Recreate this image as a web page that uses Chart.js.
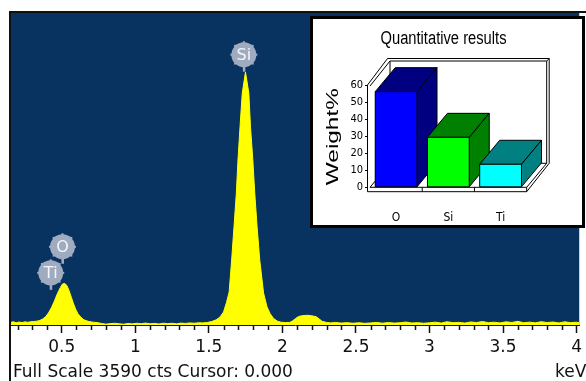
<!DOCTYPE html>
<html lang="en">
<head>
<meta charset="UTF-8">
<title>EDS spectrum</title>
<script src="https://cdn.jsdelivr.net/npm/chart.js"></script>
<style>
  body { margin: 0; background: #fff; }
  #wrap { position: relative; width: 586px; height: 381px; overflow: hidden; }
  #inset { position: absolute; left: 310px; top: 16px; width: 269px; height: 206px; border: 3px solid #000; background: #fff; }
  canvas { display: block; }
</style>
</head>
<body>
<div id="wrap">
  <canvas id="spectrum" width="586" height="381"></canvas>
  <div id="inset"><canvas id="weights" width="269" height="206"></canvas></div>
</div>
<script>
// spectrum (keV / counts)
const energies = [0.155, 0.17, 0.19, 0.21, 0.23, 0.25, 0.27, 0.29,
  0.31, 0.33, 0.35, 0.37, 0.39, 0.41, 0.43, 0.45, 0.47, 0.49, 0.505, 0.52, 0.535, 0.55, 0.565, 0.58, 0.595, 0.61, 0.63, 0.65, 0.68, 0.71,
  0.74, 0.77, 0.80, 0.83, 0.86, 0.89, 0.92, 0.95, 0.98, 1.01, 1.04, 1.07, 1.10, 1.13, 1.16, 1.19, 1.22, 1.25, 1.28, 1.31, 1.34, 1.37, 1.40, 1.43, 1.46, 1.49,
  1.52, 1.55, 1.575, 1.60, 1.62, 1.638, 1.655, 1.671, 1.687, 1.698, 1.712, 1.727, 1.749, 1.772, 1.783, 1.799, 1.812, 1.828, 1.846, 1.872, 1.895, 1.917, 1.94, 1.965, 1.99, 2.02, 2.05,
  2.07, 2.09, 2.11, 2.14, 2.17, 2.20, 2.23, 2.25, 2.27, 2.30,
  2.33, 2.36, 2.40, 2.44, 2.48, 2.52, 2.56, 2.60, 2.64, 2.68, 2.72, 2.76, 2.80, 2.84, 2.88, 2.92, 2.96, 3.00, 3.04, 3.08, 3.12, 3.16, 3.20,
  3.24, 3.28, 3.32, 3.36, 3.40, 3.44, 3.48, 3.52, 3.56, 3.60, 3.64, 3.68, 3.72, 3.76, 3.80, 3.84, 3.88, 3.92, 3.96, 4.00, 4.02];
const counts = [30, 38, 26, 34, 28, 36, 31, 38,
  40, 44, 52, 68, 95, 140, 200, 275, 360, 430, 472, 478, 455, 395, 320, 245, 180, 130, 90, 60, 42, 33,
  28, 18, 10, 16, 20, 14, 9, 18, 13, 20, 15, 22, 14, 19, 12, 21, 16, 20, 14, 22, 18, 24, 20, 26, 24, 30,
  40, 60, 90, 150, 260, 380, 748, 1131, 1519, 1898, 2282, 2666, 2911, 2666, 2282, 1898, 1519, 1131, 748, 368, 210, 130, 75, 45, 32, 28, 30,
  48, 75, 98, 108, 112, 106, 95, 70, 42, 30,
  24, 30, 22, 27, 20, 26, 19, 24, 30, 21, 28, 22, 26, 34, 23, 27, 20, 25, 33, 22, 38, 26, 30,
  22, 35, 28, 40, 27, 32, 24, 36, 29, 42, 26, 33, 25, 38, 28, 34, 24, 37, 27, 32, 26];
const fullScale = 3590;
const xTickValues = [0.5, 1, 1.5, 2, 2.5, 3, 3.5, 4];
const peakNames = ['Si', 'O', 'Ti'];
const peakEnergies = [1.738, 0.505, 0.425];
const peakMarkerCounts = [3110, 900, 600];

// inset: quantitative results
const elements = ['O', 'Si', 'Ti'];
const weights = [56.1, 29.3, 13.5];
const weightTicks = [0, 10, 20, 30, 40, 50, 60];

const frontColors = ['#0000ff', '#00ff00', '#00ffff'];
const sideColors = ['#000080', '#008000', '#008080'];

const NAVY = '#08325f';
const MARK = 'rgb(160,171,192)';
const NARROW = '"DejaVu Sans Condensed", "Liberation Sans Narrow", "Liberation Sans", sans-serif';

function poly(ctx, pts, fill) {
  ctx.beginPath();
  ctx.moveTo(pts[0][0], pts[0][1]);
  for (let i = 1; i < pts.length; i++) ctx.lineTo(pts[i][0], pts[i][1]);
  ctx.closePath();
  if (fill) ctx.fill();
  ctx.stroke();
}
function line(ctx, x1, y1, x2, y2) {
  ctx.beginPath(); ctx.moveTo(x1, y1); ctx.lineTo(x2, y2); ctx.stroke();
}
// text squeezed/stretched to a given width
function fitText(ctx, txt, x, y, width) {
  const w = ctx.measureText(txt).width;
  ctx.save();
  ctx.translate(x, y);
  ctx.scale(width / w, 1);
  ctx.fillText(txt, 0, 0);
  ctx.restore();
}

const spectrumDecor = {
  id: 'spectrumDecor',
  beforeDraw(chart) {
    const {ctx, chartArea: a} = chart;
    ctx.save();
    ctx.fillStyle = NAVY;
    ctx.fillRect(a.left, a.top, a.right - a.left, a.bottom - a.top);
    ctx.fillStyle = '#111';
    ctx.fillRect(a.left - 2, a.top - 2, chart.width, 2);
    ctx.fillRect(a.left - 2, a.top - 2, 2, chart.height);
    ctx.restore();
  },
  afterDraw(chart) {
    const {ctx, chartArea: a} = chart;
    const x = chart.scales.x, y = chart.scales.y;
    ctx.save();
    // minor ticks every 0.1 keV
    ctx.strokeStyle = '#111';
    ctx.lineWidth = 1.5;
    ctx.beginPath();
    for (let k = Math.ceil(x.min * 10); k <= Math.floor(x.max * 10); k++) {
      if (k % 5 === 0) continue;
      const px = Math.round(x.getPixelForValue(k / 10)) + 0.5;
      ctx.moveTo(px, a.bottom);
      ctx.lineTo(px, a.bottom + 5);
    }
    ctx.stroke();

    // element markers
    const r = 13;
    peakNames.forEach((name, i) => {
      const cx = x.getPixelForValue(peakEnergies[i]);
      const cy = y.getPixelForValue(peakMarkerCounts[i]);
      ctx.fillStyle = MARK;
      ctx.fillRect(cx - 1, cy + r - 1, 2.5, 5);
      ctx.beginPath();
      ctx.arc(cx, cy, r - 0.5, 0, Math.PI * 2);
      ctx.fill();
      for (let t = 0; t < 8; t++) {
        const ang = t * Math.PI / 4;
        ctx.fillRect(cx + Math.cos(ang) * (r - 0.5) - 1, cy + Math.sin(ang) * (r - 0.5) - 1, 2, 2);
      }
      ctx.fillStyle = '#f2f6fc';
      ctx.font = '16px "DejaVu Sans"';
      ctx.textAlign = 'center';
      ctx.textBaseline = 'middle';
      ctx.fillText(name, cx, cy + 1);
    });

    // footer text
    ctx.fillStyle = '#111';
    ctx.font = '17px "DejaVu Sans"';
    ctx.textAlign = 'left';
    ctx.textBaseline = 'alphabetic';
    ctx.fillText('Full Scale ' + fullScale + ' cts Cursor: 0.000', a.left + 2, chart.height - 4);
    ctx.fillText('keV', 555, chart.height - 4);
    ctx.restore();
  }
};

new Chart(document.getElementById('spectrum'), {
  type: 'line',
  data: {
    datasets: [{
      data: energies.map((e, i) => ({x: e, y: counts[i]})),
      borderColor: '#ffff00',
      backgroundColor: '#ffff00',
      borderWidth: 1,
      pointRadius: 0,
      tension: 0,
      fill: 'origin'
    }]
  },
  options: {
    responsive: false,
    animation: false,
    layout: { autoPadding: false, padding: { left: 11, top: 13, right: 0, bottom: 0 } },
    plugins: { legend: { display: false }, tooltip: { enabled: false } },
    scales: {
      x: {
        type: 'linear',
        min: 0.155,
        max: 4.018,
        afterBuildTicks: s => { s.ticks = xTickValues.map(v => ({value: v})); },
        afterFit: s => { s.height = 56; },
        grid: { drawOnChartArea: false, tickLength: 8, tickColor: '#111', tickWidth: 1.5 },
        border: { color: '#0b1626', width: 1 },
        ticks: {
          autoSkip: false, maxRotation: 0, padding: 4, color: '#111',
          font: { family: 'DejaVu Sans', size: 17 },
          callback: v => String(v)
        }
      },
      y: { display: false, min: 0, max: fullScale }
    }
  },
  plugins: [spectrumDecor]
});

// 3D look for the inset bar chart
const DX = 20, DY = -24, WALL = 2.5, FLOOR = 4.4;
const insetDecor = {
  id: 'insetDecor',
  beforeDatasetsDraw(chart) {
    const ctx = chart.ctx;
    const {left: L, right: R, top: T, bottom: B} = chart.chartArea;
    ctx.save();
    ctx.lineWidth = 1;
    ctx.strokeStyle = '#000';
    ctx.fillStyle = '#fff';
    poly(ctx, [[L - WALL, B + FLOOR], [L - WALL, T], [L - WALL + DX, T + DY - WALL], [R + DX + WALL, T + DY - WALL],
      [R + DX + WALL, B + DY], [R, B + FLOOR]], true);
    line(ctx, L, T + 1, L + DX, T + DY);
    line(ctx, L + DX, T + DY, R + DX, T + DY);
    line(ctx, R + DX, T + DY, R + DX + WALL, T + DY - WALL);
    line(ctx, R + DX, T + DY, R + DX, B + DY);
    line(ctx, L + DX, T + DY, L + DX, B + DY);
    line(ctx, L + DX, B + DY, R + DX, B + DY);
    line(ctx, L, B, L + DX, B + DY);
    line(ctx, L, B, R, B);
    line(ctx, R, B, R + DX, B + DY);
    line(ctx, R, B, R, B + FLOOR);
    const cw = (R - L) / elements.length;
    for (let k = 1; k < elements.length; k++) line(ctx, L + k * cw, B, L + k * cw, B + FLOOR);
    ctx.restore();
  },
  afterDatasetsDraw(chart) {
    const ctx = chart.ctx;
    ctx.save();
    ctx.lineWidth = 1;
    ctx.strokeStyle = '#000';
    chart.getDatasetMeta(0).data.forEach((bar, i) => {
      const {x, y, base, width} = bar.getProps(['x', 'y', 'base', 'width'], true);
      const l = x - width / 2, r = x + width / 2;
      ctx.fillStyle = sideColors[i];
      poly(ctx, [[l, y], [l + DX, y + DY], [r + DX, y + DY], [r, y]], true);
      poly(ctx, [[r, y], [r + DX, y + DY], [r + DX, base + DY], [r, base]], true);
      ctx.fillStyle = frontColors[i];
      poly(ctx, [[l, y], [r, y], [r, base], [l, base]], true);
    });
    ctx.restore();
  },
  afterDraw(chart) {
    const ctx = chart.ctx;
    ctx.save();
    ctx.fillStyle = '#000';
    ctx.textAlign = 'center';
    ctx.textBaseline = 'middle';
    ctx.font = '18px "Liberation Sans", Arial, sans-serif';
    fitText(ctx, 'Quantitative results', chart.width / 2 - 4, 20.5, 126);
    ctx.translate(20.3, 117.7);
    ctx.rotate(-Math.PI / 2);
    ctx.font = '16px "Liberation Sans", Arial, sans-serif';
    fitText(ctx, 'Weight%', 0, 0, 97);
    ctx.restore();
  }
};

new Chart(document.getElementById('weights'), {
  type: 'bar',
  data: {
    labels: elements,
    datasets: [{
      data: weights,
      backgroundColor: frontColors,
      borderColor: '#000',
      borderWidth: 1,
      barPercentage: 0.8,
      categoryPercentage: 1
    }]
  },
  options: {
    responsive: false,
    animation: false,
    layout: { autoPadding: false, padding: { top: 66, right: 55.3, bottom: 0, left: 0 } },
    plugins: { legend: { display: false }, tooltip: { enabled: false } },
    scales: {
      x: {
        grid: { display: false },
        border: { display: false },
        afterFit: s => { s.height = 37.7; },
        ticks: { padding: 15.5, color: '#000', font: { family: NARROW, size: 12 } }
      },
      y: {
        min: 0,
        max: 60,
        afterBuildTicks: s => { s.ticks = weightTicks.map(v => ({value: v})); },
        afterFit: s => { s.width = 57; },
        grid: { drawOnChartArea: false, tickLength: 5, color: '#000' },
        border: { display: false },
        ticks: { padding: 2, color: '#000', font: { family: NARROW, size: 11 } }
      }
    }
  },
  plugins: [insetDecor]
});
</script>
</body>
</html>
